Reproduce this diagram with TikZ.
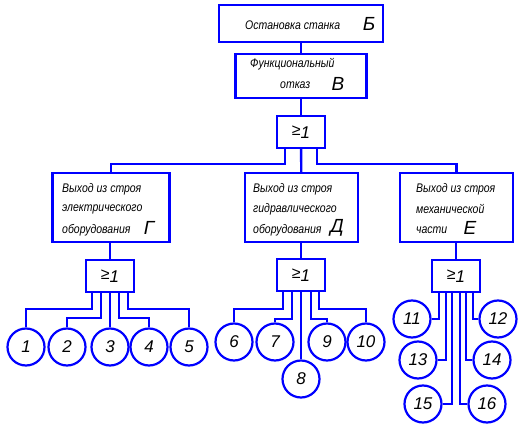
\documentclass[tikz,border=0pt]{standalone}
\usepackage{fontspec}
\setmainfont{Liberation Sans}
\newfontfamily\narrowfont[FakeStretch=0.84]{Liberation Sans}
\usetikzlibrary{positioning,calc}

\newcommand{\orsign}{\raisebox{2.5pt}{\fontsize{16}{16}\selectfont\upshape ≥}{\fontsize{17}{17}\selectfont\itshape 1}}

\begin{document}
\begin{tikzpicture}[
        x=1pt, y=-1pt,
        block/.style={rectangle, draw=blue, line width=2.4pt, inner sep=0pt},
        gate/.style={block, minimum width=48pt, minimum height=32pt},
        event/.style={circle, draw=blue, line width=2.2pt, minimum size=37pt, inner sep=0pt, font=\fontsize{17}{17}\selectfont\itshape},
        txt/.style={anchor=west, inner sep=0pt, font=\narrowfont\fontsize{12.5}{13}\selectfont\itshape},
        letter/.style={inner sep=0pt, font=\fontsize{19}{19}\selectfont\itshape},
        wire/.style={draw=blue, line width=2.4pt}
        ]
        \useasboundingbox (0,0) rectangle (531,433);

        % Top event and functional failure
        \node[block, minimum width=164pt, minimum height=37pt] (bB) at (301,23.5) {};
        \node[txt] (tB) at (245,25) {Остановка станка};
        \node[letter] (lB) at (369,24) {Б};
        \node[block, minimum width=131pt, minimum height=44pt] (bV) at (301,76) {};
        \node[txt] (tV1) at (250,64) {Функциональный};
        \node[txt] (tV2) at (280,85) {отказ};
        \node[letter] (lV) at (338,84) {В};
        \node[gate] (g0) at (301,132) {\orsign};

        % Subsystem failures
        \node[block, minimum width=117pt, minimum height=69pt] (bG) at (111,207.5) {};
        \node[txt] (tG1) at (62,189) {Выход из строя};
        \node[txt] (tG2) at (62,209) {электрического};
        \node[txt] (tG3) at (62,230) {оборудования};
        \node[letter] (lG) at (149,228) {Г};
        \node[block, minimum width=113pt, minimum height=69pt] (bD) at (301.5,207.5) {};
        \node[txt] (tD1) at (253,189) {Выход из строя};
        \node[txt] (tD2) at (253,209) {гидравлического};
        \node[txt] (tD3) at (253,230) {оборудования};
        \node[letter] (lD) at (337,228) {Д};
        \node[block, minimum width=113pt, minimum height=69pt] (bE) at (456.5,207.5) {};
        \node[txt] (tE1) at (416,189) {Выход из строя};
        \node[txt] (tE2) at (416,209) {механической};
        \node[txt] (tE3) at (416,230) {части};
        \node[letter] (lE) at (470,228) {Е};

        % Lower gates
        \node[gate] (g1) at (110,276) {\orsign};
        \node[gate] (g2) at (301,275) {\orsign};
        \node[gate] (g3) at (456,276) {\orsign};

        % Basic events
        \node[event] (c1) at (26,347) {1};
        \node[event] (c2) at (67,347) {2};
        \node[event] (c3) at (110,347) {3};
        \node[event] (c4) at (149,347) {4};
        \node[event] (c5) at (189,347) {5};
        \node[event] (c6) at (234,342) {6};
        \node[event] (c7) at (275,342) {7};
        \node[event] (c8) at (301,379) {8};
        \node[event] (c9) at (327,342) {9};
        \node[event] (c10) at (366,342) {10};
        \node[event] (c11) at (412,319) {11};
        \node[event] (c12) at (498,319) {12};
        \node[event] (c13) at (418,360) {13};
        \node[event] (c14) at (492,360) {14};
        \node[event] (c15) at (423,404) {15};
        \node[event] (c16) at (487,404) {16};

        % Connections
        \draw[wire] (bB) -- (bV);
        \draw[wire] (bV) -- (g0);
        \draw[wire] ([xshift=-16pt]g0.south) -- ++(0,15) -| (bG.north);
        \draw[wire] (g0) -- (bD);
        \draw[wire] ([xshift=16pt]g0.south) -- ++(0,15) -| (bE.north);
        \draw[wire] (bG.south -| g1) -- (g1);
        \draw[wire] (bD.south -| g2) -- (g2);
        \draw[wire] (bE.south -| g3) -- (g3);

        \draw[wire] ([xshift=-18pt]g1.south) -- ++(0,16) -| (c1.north);
        \draw[wire] ([xshift=-9pt]g1.south) -- ++(0,25) -| (c2.north);
        \draw[wire] (g1) -- (c3);
        \draw[wire] ([xshift=9pt]g1.south) -- ++(0,25) -| (c4.north);
        \draw[wire] ([xshift=18pt]g1.south) -- ++(0,16) -| (c5.north);

        \draw[wire] ([xshift=-18pt]g2.south) -- ++(0,17) -| (c6.north);
        \draw[wire] ([xshift=-9pt]g2.south) -- ++(0,27) -| (c7.north);
        \draw[wire] (g2) -- (c8);
        \draw[wire] ([xshift=10pt]g2.south) -- ++(0,27) -| (c9.north);
        \draw[wire] ([xshift=18pt]g2.south) -- ++(0,17) -| (c10.north);

        \draw[wire] ([xshift=-17pt]g3.south) |- (c11.east);
        \draw[wire] ([xshift=17pt]g3.south) |- (c12.west);
        \draw[wire] ([xshift=-10pt]g3.south) |- (c13.east);
        \draw[wire] ([xshift=10pt]g3.south) |- (c14.west);
        \draw[wire] ([xshift=-4pt]g3.south) |- (c15.east);
        \draw[wire] ([xshift=4pt]g3.south) |- (c16.west);

    \end{tikzpicture}
\end{document}
